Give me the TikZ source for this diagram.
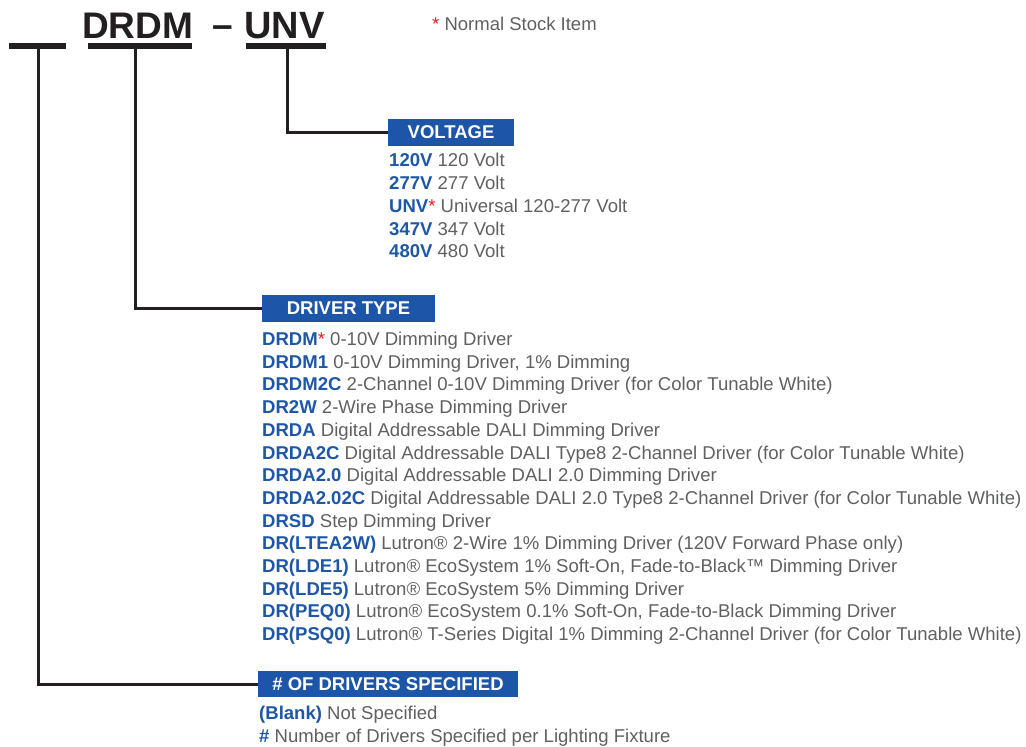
\documentclass[tikz,border=0pt]{standalone}
\usepackage{fontspec}
\setmainfont{Liberation Sans}
\definecolor{boxblue}{HTML}{1D55A8}
\definecolor{keyblue}{HTML}{1E57A7}
\definecolor{graytxt}{HTML}{5F6062}
\definecolor{linecol}{HTML}{231F20}
\definecolor{starred}{HTML}{E31E24}
\newcommand\kk[1]{\textbf{\textcolor{keyblue}{#1}}}
\newcommand\strd{\textcolor{starred}{*}}
\begin{document}
\begin{tikzpicture}[x=1pt,y=-1pt,
  hdr/.style={fill=boxblue,text=white,font=\bfseries\fontsize{18.5}{22}\selectfont,inner sep=0pt},
  item/.style={anchor=base west,inner sep=0pt,font=\fontsize{18.55}{22}\selectfont,text=graytxt},
  title/.style={anchor=base west,inner sep=0pt,font=\bfseries\fontsize{37}{40}\selectfont,text=linecol},
  bar/.style={line width=5.5pt,draw=linecol},
  conn/.style={line width=3pt,draw=linecol}]
\useasboundingbox (0,0) rectangle (1026,747);
% title
\node[title] (tdrdm) at (82,38) {DRDM};
\node[title] (tdash) at (212,37) {–};
\node[title] (tunv) at (244,38) {\fontsize{38}{40}\selectfont UNV};
\node[item,font=\fontsize{18.5}{22}\selectfont] (stock) at (432,30) {\strd\ Normal Stock Item};
% underline bars
\coordinate (l1) at (9,46); \coordinate (r1) at (66,46);
\coordinate (l2) at (88,46); \coordinate (r2) at (192,46);
\coordinate (l3) at (246,46); \coordinate (r3) at (326,46);
\draw[bar] (l1) -- (r1);
\draw[bar] (l2) -- (r2);
\draw[bar] (l3) -- (r3);
\coordinate (c1) at (38,46);
\coordinate (c2) at (135,46);
\coordinate (c3) at (287,46);
% header boxes
\node[hdr,minimum width=126pt,minimum height=27pt] (volt) at (451,132.5) {VOLTAGE};
\node[hdr,minimum width=173pt,minimum height=27pt] (drv) at (348.5,308.5) {DRIVER TYPE};
\node[hdr,minimum width=260pt,minimum height=26pt] (num) at (388,684) {\# OF DRIVERS SPECIFIED};
% connectors
\draw[conn] (c3) |- (volt.west);
\draw[conn] (c2) |- (drv.west);
\draw[conn] (c1) |- (num.west);
% voltage items
\node[item] (v1) at (389,166.5) {\kk{120V} 120 Volt};
\node[item] (v2) at (389,189.5) {\kk{277V} 277 Volt};
\node[item] (v3) at (389,212.5) {\kk{UNV}\strd\ Universal 120-277 Volt};
\node[item] (v4) at (389,235.5) {\kk{347V} 347 Volt};
\node[item] (v5) at (389,257.5) {\kk{480V} 480 Volt};
% driver items
\node[item] (d1) at (262,345.5) {\kk{DRDM}\strd\ 0-10V Dimming Driver};
\node[item] (d2) at (262,368.2) {\kk{DRDM1} 0-10V Dimming Driver, 1\% Dimming};
\node[item] (d3) at (262,390.9) {\kk{DRDM2C} 2-Channel 0-10V Dimming Driver (for Color Tunable White)};
\node[item] (d4) at (262,413.6) {\kk{DR2W} 2-Wire Phase Dimming Driver};
\node[item] (d5) at (262,436.3) {\kk{DRDA} Digital Addressable DALI Dimming Driver};
\node[item] (d6) at (262,459.0) {\kk{DRDA2C} Digital Addressable DALI Type8 2-Channel Driver (for Color Tunable White)};
\node[item] (d7) at (262,481.7) {\kk{DRDA2.0} Digital Addressable DALI 2.0 Dimming Driver};
\node[item] (d8) at (262,504.4) {\kk{DRDA2.02C} Digital Addressable DALI 2.0 Type8 2-Channel Driver (for Color Tunable White)};
\node[item] (d9) at (262,527.1) {\kk{DRSD} Step Dimming Driver};
\node[item] (d10) at (262,549.8) {\kk{DR(LTEA2W)} Lutron® 2-Wire 1\% Dimming Driver (120V Forward Phase only)};
\node[item] (d11) at (262,572.5) {\kk{DR(LDE1)} Lutron® EcoSystem 1\% Soft-On, Fade-to-Black™ Dimming Driver};
\node[item] (d12) at (262,595.2) {\kk{DR(LDE5)} Lutron® EcoSystem 5\% Dimming Driver};
\node[item] (d13) at (262,617.9) {\kk{DR(PEQ0)} Lutron® EcoSystem 0.1\% Soft-On, Fade-to-Black Dimming Driver};
\node[item] (d14) at (262,640.6) {\kk{DR(PSQ0)} Lutron® T-Series Digital 1\% Dimming 2-Channel Driver (for Color Tunable White)};
% number items
\node[item] (n1) at (259,719.5) {\kk{(Blank)} Not Specified};
\node[item] (n2) at (259,742.5) {\kk{\#} Number of Drivers Specified per Lighting Fixture};
\end{tikzpicture}
\end{document}
